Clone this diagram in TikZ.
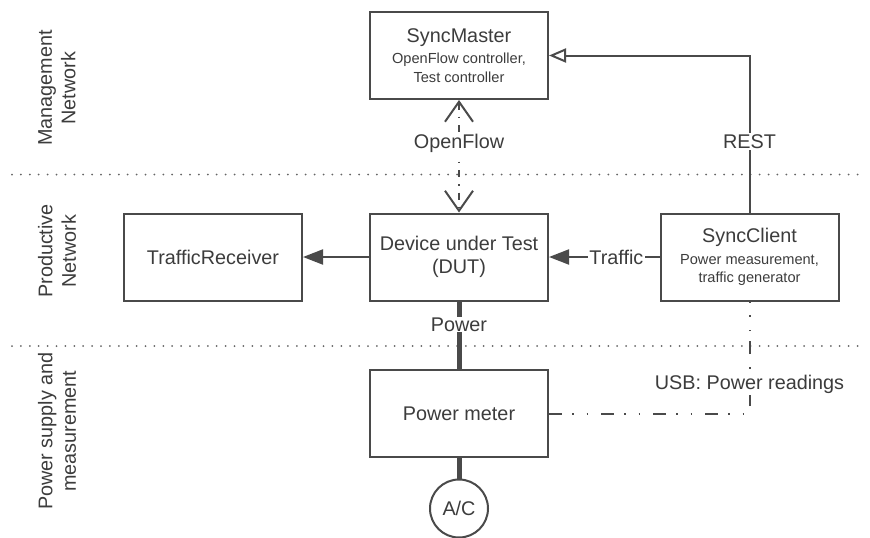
\documentclass[tikz,border=0pt]{standalone}
\usepackage{fontspec}
\setmainfont{Liberation Sans}
\usetikzlibrary{arrows.meta}
\definecolor{ln}{HTML}{4A4A4A}
\definecolor{tx}{HTML}{3C3C3C}
\newcommand\bigf{\fontsize{19.8}{23.5}\selectfont}
\newcommand\smallf{\fontsize{14.6}{17.5}\selectfont}
\begin{document}
\begin{tikzpicture}[x=1pt,y=-1pt,
  box/.style={draw=ln, line width=2pt, minimum width=178pt, minimum height=87pt,
    text=tx, align=center, font=\bigf, inner sep=0pt},
  conn/.style={draw=ln, line width=2pt},
  lbl/.style={fill=white, text=tx, font=\bigf, inner sep=1.5pt},
  sep/.style={draw=ln!85, line width=2pt, line cap=round, dash pattern=on 0pt off 8.9pt},
  side/.style={rotate=90, align=center, text=tx, font=\bigf},
  openflowline/.style={dash pattern=on 7pt off 7pt on 1.5pt off 7pt},
  usbline/.style={dash pattern=on 13pt off 10pt on 1.5pt off 13pt on 1.5pt off 13pt},
  powerline/.style={draw=ln, line width=5pt},
  filltip/.style={-{Triangle[length=20pt, width=15pt]}}
]
\useasboundingbox (0,0) rectangle (870,538);

% separators
\draw[sep] (12,174.5) -- (866,174.5);
\draw[sep] (12,346) -- (866,346);

% side labels
\node[side] (lblmgmt) at (57,88) {Management\\Network};
\node[side] (lblprod) at (57,251) {Productive\\Network};
\node[side] (lblpow) at (57,431) {Power supply and\\measurement};

% boxes
\node[box] (sm) at (459,55.5) {SyncMaster\\[-2pt]{\smallf OpenFlow controller,}\\[-5pt]{\smallf Test controller}};
\node[box] (dut) at (459,257) {Device under Test\\(DUT)};
\node[box] (sc) at (749.5,257) {SyncClient\\[-2pt]{\smallf Power measurement,}\\[-5pt]{\smallf traffic generator}};
\node[box] (tr) at (213,257) {TrafficReceiver};
\node[box] (pm) at (459,413.5) {Power meter};
\node[draw=ln, line width=2pt, circle, minimum size=58pt, inner sep=0pt, text=tx, font=\bigf] (ac) at (459,508.5) {A/C};

% connectors
\draw[conn, -{Triangle[open, length=17pt, width=14pt]}] (sc.north) |- node[pos=0.225, lbl] {REST} (sm.east);
\draw[conn, openflowline, {Straight Barb[length=20pt, width=28pt]}-{Straight Barb[length=20pt, width=28pt]}] (sm.south) -- node[pos=0.39, lbl] {OpenFlow} (dut.north);
\draw[conn, filltip] (sc.west) -- node[pos=0.39, lbl] {Traffic} (dut.east);
\draw[conn, filltip] (dut.west) -- (tr.east);
\draw[powerline] (dut.south) -- node[pos=0.34, lbl, inner ysep=0.5pt] {Power} (pm.north);
\draw[powerline] (pm.south) -- (ac.north);
\draw[conn, usbline] (pm.east) -| node[pos=0.63, lbl] {USB: Power readings} (sc.south);
\end{tikzpicture}
\end{document}
